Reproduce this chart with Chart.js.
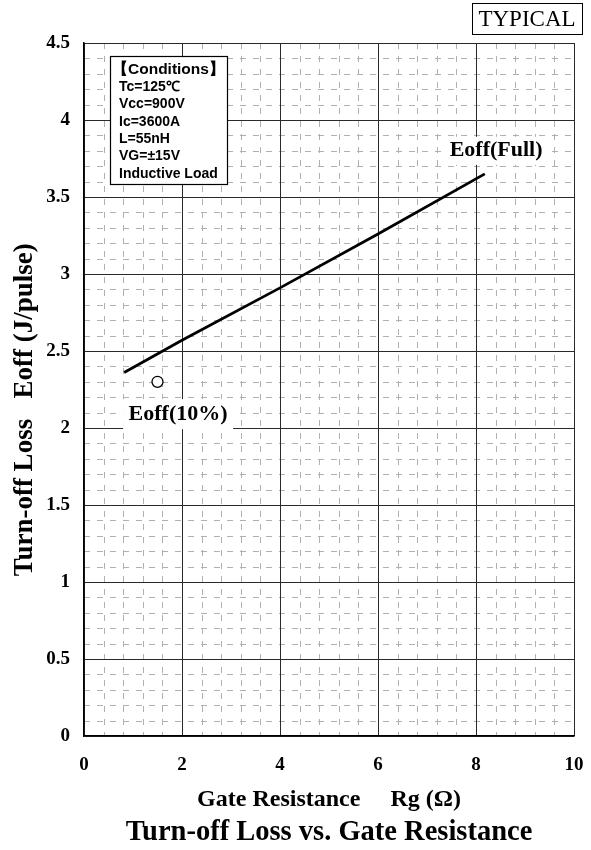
<!DOCTYPE html>
<html>
<head>
<meta charset="utf-8">
<script src="https://cdn.jsdelivr.net/npm/chart.js@4.4.1/dist/chart.umd.min.js"></script>
<style>
  html, body { margin: 0; padding: 0; background: #fff; }
  #wrap { width: 591px; height: 850px; }
</style>
</head>
<body>
<div id="wrap"><canvas id="grafico"></canvas></div>
<script>
// values
const rgFull = [0.82, 2, 4, 6, 8.18];
const eoffFull = [2.36, 2.57, 2.91, 3.26, 3.65];
const rg10 = [1.5];
const eoff10 = [2.30];
const xTicks = [0, 2, 4, 6, 8, 10];
const yTicks = [0, 0.5, 1, 1.5, 2, 2.5, 3, 3.5, 4, 4.5];
const conditions = ['【Conditions】', 'Tc=125℃', 'Vcc=900V', 'Ic=3600A', 'L=55nH', 'VG=±15V', 'Inductive Load'];

const serif = '"Liberation Serif", "Times New Roman", serif';
const sans = '"Liberation Sans", Arial, sans-serif';

// minor dashed grid, drawn before the major grid
const minorGrid = {
    id: 'minorGrid',
    beforeDraw: function (chart) {
        const ctx = chart.ctx;
        const xs = chart.scales.x, ys = chart.scales.y;
        const a = chart.chartArea;
        ctx.save();
        ctx.strokeStyle = '#b0b0b0';
        ctx.lineWidth = 1;
        ctx.setLineDash([6, 7]);
        for (let i = 1; i < 25; i++) {
            if (i % 5 === 0) continue;
            const px = Math.round(xs.getPixelForValue(i * 0.4)) + 0.5;
            ctx.beginPath();
            ctx.moveTo(px, a.top);
            ctx.lineTo(px, a.bottom);
            ctx.stroke();
        }
        for (let j = 1; j < 45; j++) {
            if (j % 5 === 0) continue;
            const py = Math.round(ys.getPixelForValue(j * 0.1)) + 0.5;
            ctx.beginPath();
            ctx.moveTo(a.left, py);
            ctx.lineTo(a.right, py);
            ctx.stroke();
        }
        ctx.restore();
    }
};

function labelBox(ctx, text, cx, cy, w, h) {
    ctx.fillStyle = '#fff';
    ctx.fillRect(cx - w / 2, cy - h / 2, w, h);
    ctx.fillStyle = '#000';
    ctx.textAlign = 'center';
    ctx.textBaseline = 'middle';
    ctx.fillText(text, cx, cy);
}

const notes = {
    id: 'notes',
    afterDraw: function (chart) {
        const ctx = chart.ctx;
        const xs = chart.scales.x, ys = chart.scales.y;
        ctx.save();
        // curve labels
        ctx.font = 'bold 22px ' + serif;
        labelBox(ctx, 'Eoff(Full)', xs.getPixelForValue(8.41), ys.getPixelForValue(3.80), 106, 28);
        labelBox(ctx, 'Eoff(10%)', xs.getPixelForValue(1.92), ys.getPixelForValue(2.09), 110, 30);

        // conditions box
        const bx = 110, by = 56, bw = 117, bh = 128;
        ctx.fillStyle = '#fff';
        ctx.fillRect(bx, by, bw, bh);
        ctx.strokeStyle = '#000';
        ctx.lineWidth = 1.2;
        ctx.strokeRect(bx + 0.5, by + 0.5, bw, bh);
        ctx.fillStyle = '#000';
        ctx.textAlign = 'left';
        ctx.textBaseline = 'middle';
        conditions.forEach(function (t, k) {
            ctx.font = (k === 0 ? 'bold 15.5px ' : 'bold 14px ') + sans;
            ctx.fillText(t, k === 0 ? 112 : 119, 70 + k * 17.3);
        });

        // TYPICAL tag
        ctx.font = '23px ' + serif;
        ctx.textAlign = 'center';
        ctx.fillText('TYPICAL', 527, 20);
        ctx.lineWidth = 1;
        ctx.strokeRect(472.5, 3.5, 110, 31);
        ctx.restore();
    }
};

const ctx = document.getElementById('grafico').getContext('2d');

const data = {
    datasets: [{
        label: 'Eoff(Full)',
        data: rgFull.map((x, i) => ({ x: x, y: eoffFull[i] })),
        showLine: true,
        borderColor: '#000',
        borderWidth: 2.8,
        pointRadius: 0,
        tension: 0
    }, {
        label: 'Eoff(10%)',
        data: rg10.map((x, i) => ({ x: x, y: eoff10[i] })),
        showLine: false,
        pointRadius: 5.5,
        pointBackgroundColor: '#fff',
        pointBorderColor: '#000',
        pointBorderWidth: 1.3
    }]
};

const config = {
    type: 'scatter',
    data: data,
    options: {
        responsive: true,
        maintainAspectRatio: false,
        animation: false,
        layout: {
            padding: { top: 43, right: 17, left: 0, bottom: 0 }
        },
        plugins: {
            legend: { display: false },
            tooltip: { enabled: false },
            title: {
                display: true,
                position: 'bottom',
                fullSize: false,
                text: 'Turn-off Loss vs. Gate Resistance',
                color: '#000',
                font: { family: serif, size: 28.5, weight: 'bold' },
                padding: { top: 0, bottom: 0 }
            }
        },
        scales: {
            x: {
                type: 'linear',
                min: 0,
                max: 10,
                afterBuildTicks: function (scale) {
                    scale.ticks = xTicks.map(v => ({ value: v }));
                },
                afterFit: function (scale) {
                    scale.height = 850 - 736 - 34.2;
                    scale.paddingLeft = 0;
                    scale.paddingRight = 0;
                },
                ticks: {
                    color: '#000',
                    padding: 18,
                    callback: v => String(v),
                    font: { family: serif, size: 19, weight: 'bold' }
                },
                grid: { color: '#2a2a2a', lineWidth: 1, drawTicks: false },
                border: { color: '#000', width: 1.5 },
                title: {
                    display: true,
                    text: 'Gate Resistance     Rg (Ω)',
                    color: '#000',
                    font: { family: serif, size: 24, weight: 'bold' },
                    padding: { top: 0, bottom: 1.5 }
                }
            },
            y: {
                type: 'linear',
                min: 0,
                max: 4.5,
                afterBuildTicks: function (scale) {
                    scale.ticks = yTicks.map(v => ({ value: v }));
                },
                afterFit: function (scale) {
                    scale.width = 84;
                    scale.paddingTop = 0;
                    scale.paddingBottom = 0;
                },
                ticks: {
                    color: '#000',
                    padding: 14,
                    callback: v => String(v),
                    font: { family: serif, size: 19, weight: 'bold' }
                },
                grid: { color: '#2a2a2a', lineWidth: 1, drawTicks: false },
                border: { color: '#000', width: 1.5 },
                title: {
                    display: true,
                    text: 'Turn-off Loss   Eoff (J/pulse)      ',
                    color: '#000',
                    font: { family: serif, size: 27, weight: 'bold' },
                    padding: { top: 9, bottom: 0 }
                }
            }
        }
    },
    plugins: [minorGrid, notes]
};

new Chart(ctx, config);
</script>
</body>
</html>
